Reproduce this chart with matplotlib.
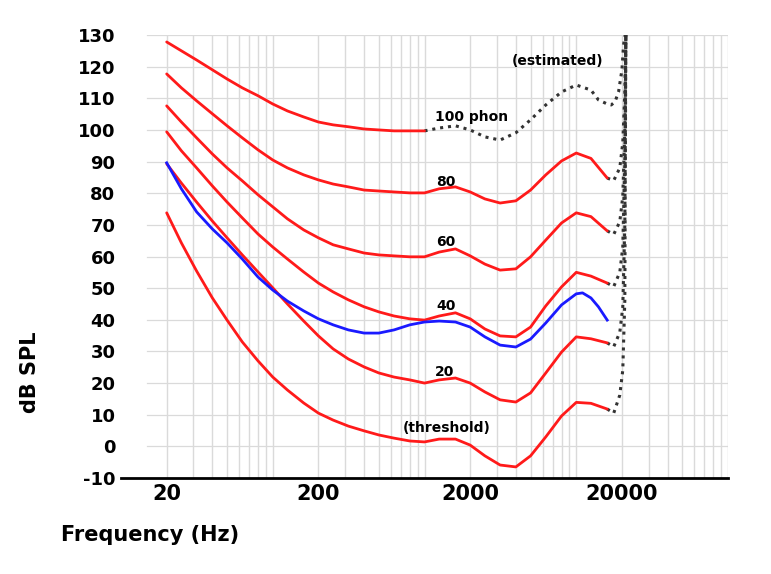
import numpy as np
import matplotlib
matplotlib.use("Agg")
import matplotlib.pyplot as plt

# ---- data ----
freqs = [20, 25, 31.5, 40, 50, 63, 80, 100, 125, 160, 200, 250, 315, 400, 500, 630, 800,
         1000, 1250, 1600, 2000, 2500, 3150, 4000, 5000, 6300, 8000, 10000, 12500, 16000]

thr_db = [73.8, 64.3, 55.4, 46.9, 39.9, 33.0, 27.0, 21.9, 17.8, 13.7, 10.5, 8.3, 6.4, 4.9, 3.6, 2.6, 1.7,
          1.4, 2.3, 2.3, 0.4, -3.0, -5.9, -6.5, -3.0, 3.0, 9.6, 13.9, 13.6, 11.8]
p20_db = [89.3, 83.2, 77.2, 71.2, 65.9, 60.5, 55.1, 50.1, 45.0, 39.6, 34.9, 30.8, 27.6, 25.1, 23.2, 21.9, 21.0,
          20.0, 21.0, 21.6, 20.0, 17.2, 14.7, 14.0, 16.9, 23.2, 29.8, 34.6, 34.0, 32.7]
p40_db = [99.4, 93.4, 88.0, 82.3, 77.2, 72.2, 67.1, 63.0, 59.2, 55.1, 51.6, 48.8, 46.3, 44.1, 42.5, 41.2, 40.3,
          39.9, 41.2, 42.2, 40.3, 37.1, 34.9, 34.6, 37.7, 44.4, 50.4, 55.0, 53.8, 51.6]
p60_db = [107.6, 102.5, 97.5, 92.4, 88.0, 83.9, 79.5, 75.7, 71.9, 68.4, 65.9, 63.7, 62.4, 61.1, 60.5, 60.2, 59.9,
          59.9, 61.4, 62.4, 60.2, 57.6, 55.7, 56.1, 59.9, 65.2, 70.6, 73.8, 72.6, 68.1]
p80_db = [117.7, 113.3, 109.2, 105.1, 101.3, 97.5, 93.7, 90.5, 88.0, 85.8, 84.2, 82.9, 82.0, 81.0, 80.7, 80.4, 80.1,
          80.1, 81.4, 82.0, 80.4, 78.2, 76.9, 77.6, 81.0, 85.8, 90.2, 92.7, 91.0, 84.8]

p100_f = [20, 25, 31.5, 40, 50, 63, 80, 100, 125, 160, 200, 250, 315, 400, 500, 630, 800, 1000]
p100_db = [127.8, 125.0, 122.1, 119.0, 116.1, 113.3, 110.8, 108.2, 106.0, 104.1, 102.5, 101.6, 101.0, 100.3,
           100.0, 99.7, 99.7, 99.7]

est100_f = [1000, 1250, 1600, 2000, 2500, 3150, 4000, 5000, 6300, 8000, 10000, 12500, 14000, 16000,
            17000, 18000, 19000, 20000, 20500, 21000]
est100_db = [99.7, 100.6, 101.3, 100.0, 97.8, 96.8, 99.1, 103.2, 107.9, 112.0, 114.2, 112.6, 109.5, 108.2,
             107.9, 108.9, 112.0, 119.0, 126.9, 130.0]

est_f = [16000, 17660, 19360, 20260, 20900, 21220]
est_thr_db = [11.8, 10.5, 16.2, 24.1, 46.3, 130.0]
est20_db = [32.7, 31.5, 36.0, 44.0, 70.0, 130.0]
est40_db = [51.6, 50.5, 55.0, 63.0, 90.0, 130.0]
est60_db = [68.1, 67.0, 71.0, 79.0, 100.0, 130.0]
est80_db = [84.8, 84.0, 88.0, 96.0, 112.0, 130.0]

blue_f = [20, 25, 31.5, 40, 50, 63, 80, 100, 125, 160, 200, 250, 315, 400, 500, 630, 800,
          1000, 1250, 1600, 2000, 2500, 3150, 4000, 5000, 6300, 8000, 10000, 11000, 12500, 14000, 16000]
blue_db = [89.6, 81.4, 74.1, 68.7, 64.3, 59.2, 53.5, 49.4, 45.9, 42.8, 40.3, 38.4, 36.8, 35.8, 35.8, 36.8, 38.4,
           39.3, 39.6, 39.3, 37.7, 34.6, 32.0, 31.4, 33.9, 39.0, 44.7, 48.2, 48.5, 46.9, 44.1, 39.9]

y_ticks = list(range(-10, 131, 10))
x_ticks = [20, 200, 2000, 20000]
x_tick_labels = ["20", "200", "2000", "20000"]

labels = [("100 phon", 2030, 104.1), ("80", 1390, 83.6), ("60", 1390, 64.6), ("40", 1390, 44.4),
          ("20", 1350, 23.5), ("(threshold)", 1410, 5.8), ("(estimated)", 7500, 121.8)]

# ---- figure ----
fig = plt.figure(figsize=(7.71, 5.74), dpi=100)
ax = fig.add_axes([121 / 771, 1 - 478 / 574, (728 - 121) / 771, (478 - 35) / 574])
ax.set_xscale("log")
ax.set_xlim(10, 100000)
ax.set_ylim(-10, 130)

grid_c = "#dadada"
for dec in [10, 100, 1000, 10000]:
    for m in range(1, 10):
        v = dec * m
        if v == 10:
            continue
        ax.axvline(v, color=grid_c, lw=1.0, zorder=0)
ax.axvline(100000, color=grid_c, lw=1.0, zorder=0)
for yv in y_ticks[1:]:
    ax.axhline(yv, xmin=0.043, xmax=1.0, color=grid_c, lw=0.9, zorder=0)

red = "#ff1a1a"
for d in [thr_db, p20_db, p40_db, p60_db, p80_db]:
    ax.plot(freqs, d, color=red, lw=2.0, solid_capstyle="round", solid_joinstyle="round", zorder=3)
ax.plot(p100_f, p100_db, color=red, lw=2.0, solid_capstyle="round", solid_joinstyle="round", zorder=3)
ax.plot(blue_f, blue_db, color="#1a1aff", lw=2.0, solid_joinstyle="round", zorder=4)

dot_kw = dict(color="#333333", lw=2.2, linestyle=(0, (1, 1.6)), zorder=2)
ax.plot(est100_f, est100_db, **dot_kw)
for d in [est_thr_db, est20_db, est40_db, est60_db, est80_db]:
    ax.plot(est_f, d, **dot_kw)

for txt, fx, fy in labels:
    ax.text(fx, fy, txt, fontsize=10, fontweight="bold", ha="center", va="center", zorder=5)

ax.set_yticks(y_ticks)
ax.set_yticklabels([str(v) for v in y_ticks], fontsize=13, fontweight="bold")
ax.set_xticks(x_ticks)
ax.set_xticklabels(x_tick_labels, fontsize=15, fontweight="bold")
ax.xaxis.set_minor_locator(matplotlib.ticker.NullLocator())
ax.tick_params(axis="both", length=0, pad=4)
for s in ["top", "right", "left"]:
    ax.spines[s].set_visible(False)
ax.spines["bottom"].set_linewidth(2.0)
ax.spines["bottom"].set_color("black")

fig.text(30 / 771, 1 - 372 / 574, "dB SPL", rotation=90, fontsize=15, fontweight="bold", ha="center", va="center")
fig.text(150 / 771, 1 - 535 / 574, "Frequency (Hz)", fontsize=15, fontweight="bold", ha="center", va="center")

fig.savefig("out.png", dpi=100)
